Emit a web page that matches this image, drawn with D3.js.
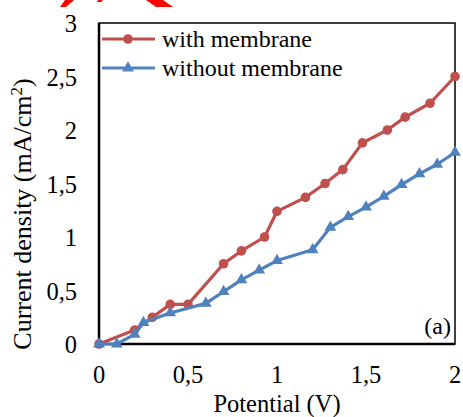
<!DOCTYPE html>
<html><head><meta charset="utf-8">
<script src="https://cdn.jsdelivr.net/npm/d3@7/dist/d3.min.js"></script>
<style>html,body{margin:0;padding:0;background:#fff;}svg{display:block;}</style>
</head><body>
<script>
// Data
const withX = [0, 0.2, 0.3, 0.4, 0.5, 0.7, 0.8, 0.93, 1.0, 1.16, 1.27, 1.37, 1.48, 1.62, 1.72, 1.86, 2.0];
const withY = [0, 0.13, 0.25, 0.37, 0.37, 0.75, 0.87, 1.0, 1.24, 1.37, 1.5, 1.63, 1.88, 2.0, 2.12, 2.25, 2.5];
const withoutX = [0, 0.1, 0.2, 0.25, 0.4, 0.6, 0.7, 0.8, 0.9, 1.0, 1.2, 1.3, 1.4, 1.5, 1.6, 1.7, 1.8, 1.9, 2.0];
const withoutY = [0, 0, 0.09, 0.2, 0.29, 0.38, 0.49, 0.6, 0.69, 0.78, 0.88, 1.09, 1.19, 1.28, 1.38, 1.49, 1.59, 1.68, 1.79];
const xTicks = [0, 0.5, 1, 1.5, 2];
const yTicks = [0, 0.5, 1, 1.5, 2, 2.5, 3];
const seriesNames = ["with membrane", "without membrane"];
const xTitle = "Potential (V)";
const panelLabel = "(a)";

const W = 463, H = 417;
const RED = "#C0504D", BLUE = "#4F81BD";
const FONT = "'Liberation Serif', 'Times New Roman', serif";
const svg = d3.select("body").append("svg").attr("width", W).attr("height", H);

const x = d3.scaleLinear().domain([0, 2]).range([99, 455]);
const y = d3.scaleLinear().domain([0, 3]).range([344, 23]);
const fmt = d => String(d).replace(".", ",");

// red artifacts at top
svg.append("polygon").attr("points", "65,0 74,0 66,7 60,7").attr("fill", "#ff0000");
svg.append("polygon").attr("points", "98,0 103,0 101,2 97,2").attr("fill", "#ff0000");
svg.append("polygon").attr("points", "146,0 163,0 173,7 156,7").attr("fill", "#ff0000");

// plot border
svg.append("rect").attr("x", x(0)).attr("y", y(3)).attr("width", x(2) - x(0)).attr("height", y(0) - y(3))
  .attr("fill", "none").attr("stroke", "#000").attr("stroke-width", 1.5);
svg.append("line").attr("x1", x(0)).attr("x2", x(0)).attr("y1", y(3)).attr("y2", y(0)).attr("stroke", "#000").attr("stroke-width", 2.5);
svg.append("line").attr("x1", x(0)).attr("x2", x(2)).attr("y1", y(0)).attr("y2", y(0)).attr("stroke", "#000").attr("stroke-width", 2.5);

// tick labels
svg.append("g").selectAll("text").data(yTicks).join("text")
  .attr("x", 77).attr("y", d => y(d) + 9).attr("text-anchor", "end")
  .attr("font-family", FONT).attr("font-size", 24.5).text(fmt);
svg.append("g").selectAll("text").data(xTicks).join("text")
  .attr("x", d => x(d)).attr("y", 383).attr("text-anchor", "middle")
  .attr("font-family", FONT).attr("font-size", 24.5).text(fmt);

// axis titles
svg.append("text").attr("x", 277).attr("y", 411.5).attr("text-anchor", "middle")
  .attr("font-family", FONT).attr("font-size", 24.5).text(xTitle);
const yt = svg.append("text").attr("transform", "translate(31,214) rotate(-90)").attr("text-anchor", "middle")
  .attr("font-family", FONT).attr("font-size", 26);
yt.append("tspan").text("Current density (mA/cm");
yt.append("tspan").attr("dy", -9).attr("font-size", 17).text("2");
yt.append("tspan").attr("dy", 9).text(")");

// series
const line = d3.line().x(d => x(d[0])).y(d => y(d[1]));
const withData = withX.map((v, i) => [v, withY[i]]);
const withoutData = withoutX.map((v, i) => [v, withoutY[i]]);
const tri = d3.symbol().type(d3.symbolTriangle).size(60);

svg.append("path").datum(withData).attr("d", line).attr("fill", "none").attr("stroke", RED).attr("stroke-width", 3.2).attr("stroke-linejoin", "round");
svg.append("g").selectAll("circle").data(withData).join("circle")
  .attr("cx", d => x(d[0])).attr("cy", d => y(d[1])).attr("r", 4.8).attr("fill", RED);

svg.append("path").datum(withoutData).attr("d", line).attr("fill", "none").attr("stroke", BLUE).attr("stroke-width", 3.2).attr("stroke-linejoin", "round");
svg.append("g").selectAll("path").data(withoutData).join("path")
  .attr("transform", d => `translate(${x(d[0])},${y(d[1])})`).attr("d", tri).attr("fill", BLUE);

// legend
const lg = [{name: seriesNames[0], c: RED, ty: 39}, {name: seriesNames[1], c: BLUE, ty: 68}];
lg.forEach((l, i) => {
  svg.append("line").attr("x1", 102).attr("x2", 155).attr("y1", l.ty).attr("y2", l.ty).attr("stroke", l.c).attr("stroke-width", 3.2);
  if (i === 0) svg.append("circle").attr("cx", 128).attr("cy", l.ty).attr("r", 4.8).attr("fill", l.c);
  else svg.append("path").attr("transform", `translate(128,${l.ty})`).attr("d", tri).attr("fill", l.c);
  svg.append("text").attr("x", 162).attr("y", l.ty + 8).attr("font-family", FONT).attr("font-size", 24).text(l.name);
});

svg.append("text").attr("x", 451).attr("y", 334).attr("text-anchor", "end")
  .attr("font-family", FONT).attr("font-size", 24).text(panelLabel);
</script>
</body></html>
